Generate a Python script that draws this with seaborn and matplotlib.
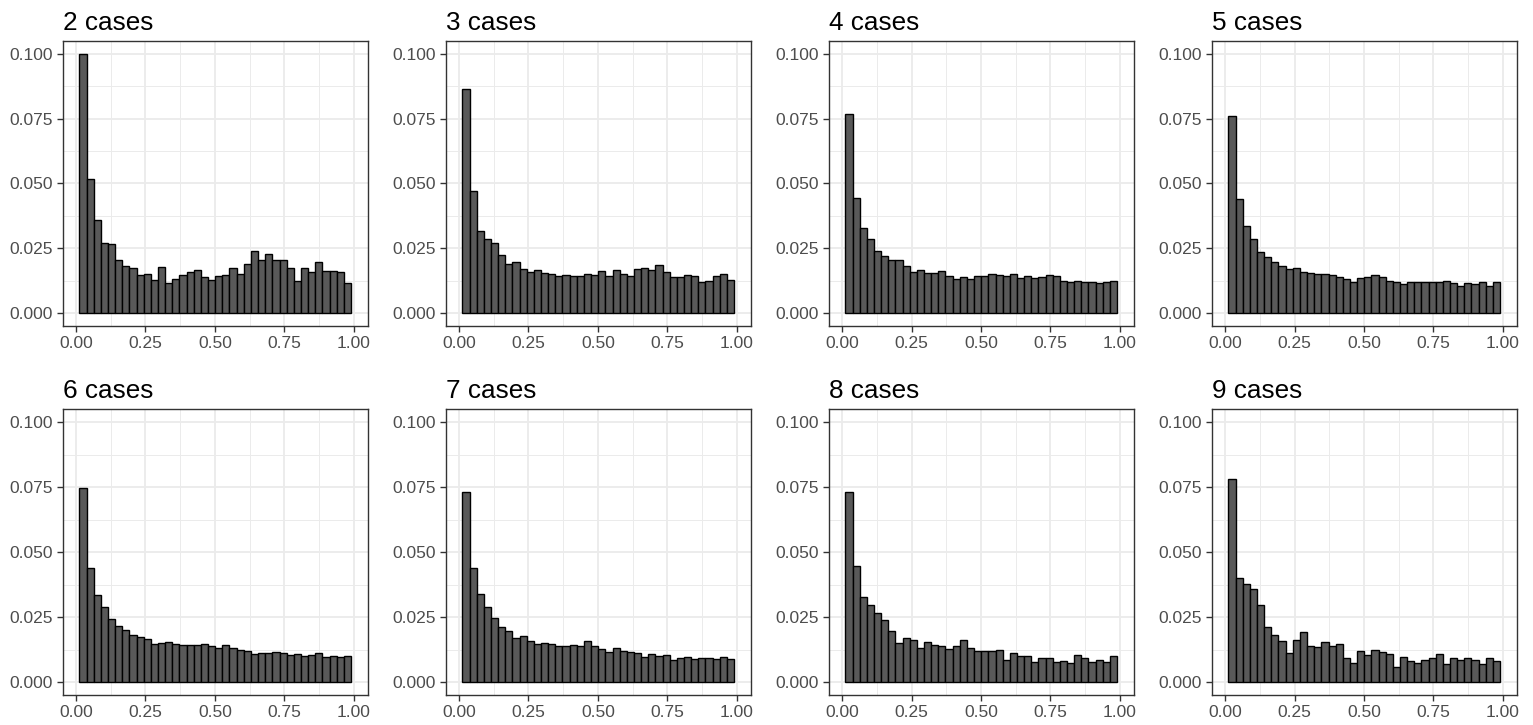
import numpy as np
import pandas as pd
import seaborn as sns
import matplotlib
matplotlib.use("Agg")
import matplotlib.pyplot as plt
from matplotlib.ticker import FixedLocator, FormatStrFormatter

# ---- data (bar heights, 38 bins each) ----
panel_titles = ["2 cases", "3 cases", "4 cases", "5 cases",
                "6 cases", "7 cases", "8 cases", "9 cases"]

cases_2 = [0.1000, 0.0518, 0.0361, 0.0272, 0.0267, 0.0204, 0.0183, 0.0174, 0.0146, 0.0152,
           0.0129, 0.0180, 0.0116, 0.0133, 0.0146, 0.0158, 0.0167, 0.0138, 0.0129, 0.0142,
           0.0148, 0.0176, 0.0151, 0.0189, 0.0241, 0.0206, 0.0230, 0.0206, 0.0206, 0.0176,
           0.0125, 0.0176, 0.0158, 0.0197, 0.0163, 0.0163, 0.0158, 0.0116]
cases_3 = [0.0864, 0.0471, 0.0318, 0.0287, 0.0270, 0.0223, 0.0191, 0.0199, 0.0172, 0.0158,
           0.0167, 0.0157, 0.0151, 0.0145, 0.0149, 0.0142, 0.0144, 0.0152, 0.0147, 0.0163,
           0.0143, 0.0166, 0.0151, 0.0143, 0.0170, 0.0176, 0.0168, 0.0185, 0.0159, 0.0139,
           0.0139, 0.0147, 0.0143, 0.0122, 0.0124, 0.0144, 0.0153, 0.0129]
cases_4 = [0.0769, 0.0445, 0.0329, 0.0287, 0.0241, 0.0221, 0.0207, 0.0204, 0.0184, 0.0159,
           0.0166, 0.0157, 0.0154, 0.0161, 0.0143, 0.0134, 0.0140, 0.0133, 0.0145, 0.0145,
           0.0151, 0.0148, 0.0145, 0.0151, 0.0136, 0.0143, 0.0135, 0.0139, 0.0147, 0.0145,
           0.0126, 0.0122, 0.0126, 0.0122, 0.0122, 0.0115, 0.0120, 0.0126]
cases_5 = [0.0761, 0.0441, 0.0337, 0.0287, 0.0237, 0.0216, 0.0199, 0.0184, 0.0171, 0.0176,
           0.0158, 0.0156, 0.0153, 0.0151, 0.0148, 0.0140, 0.0131, 0.0122, 0.0136, 0.0139,
           0.0148, 0.0138, 0.0125, 0.0121, 0.0112, 0.0119, 0.0119, 0.0121, 0.0121, 0.0121,
           0.0125, 0.0116, 0.0105, 0.0115, 0.0114, 0.0120, 0.0105, 0.0119]
cases_6 = [0.0749, 0.0438, 0.0337, 0.0290, 0.0242, 0.0214, 0.0200, 0.0180, 0.0172, 0.0165,
           0.0148, 0.0149, 0.0153, 0.0147, 0.0142, 0.0142, 0.0142, 0.0145, 0.0138, 0.0131,
           0.0142, 0.0130, 0.0122, 0.0120, 0.0106, 0.0111, 0.0112, 0.0117, 0.0111, 0.0105,
           0.0108, 0.0101, 0.0103, 0.0110, 0.0097, 0.0102, 0.0096, 0.0099]
cases_7 = [0.0730, 0.0438, 0.0339, 0.0290, 0.0246, 0.0210, 0.0195, 0.0170, 0.0179, 0.0159,
           0.0148, 0.0151, 0.0148, 0.0138, 0.0138, 0.0142, 0.0138, 0.0158, 0.0139, 0.0126,
           0.0116, 0.0130, 0.0119, 0.0117, 0.0110, 0.0097, 0.0107, 0.0101, 0.0103, 0.0084,
           0.0093, 0.0096, 0.0087, 0.0092, 0.0094, 0.0089, 0.0097, 0.0088]
cases_8 = [0.0730, 0.0448, 0.0329, 0.0295, 0.0264, 0.0240, 0.0195, 0.0151, 0.0170, 0.0162,
           0.0130, 0.0154, 0.0142, 0.0138, 0.0129, 0.0138, 0.0161, 0.0131, 0.0119, 0.0120,
           0.0120, 0.0125, 0.0083, 0.0110, 0.0101, 0.0099, 0.0078, 0.0093, 0.0091, 0.0077,
           0.0080, 0.0073, 0.0103, 0.0092, 0.0078, 0.0084, 0.0078, 0.0099]
cases_9 = [0.0783, 0.0402, 0.0378, 0.0357, 0.0295, 0.0212, 0.0182, 0.0157, 0.0111, 0.0161,
           0.0194, 0.0140, 0.0135, 0.0153, 0.0140, 0.0145, 0.0093, 0.0074, 0.0119, 0.0103,
           0.0124, 0.0114, 0.0108, 0.0059, 0.0096, 0.0080, 0.0075, 0.0084, 0.0093, 0.0106,
           0.0068, 0.0093, 0.0083, 0.0093, 0.0084, 0.0068, 0.0093, 0.0079]

x_ticks = [0.00, 0.25, 0.50, 0.75, 1.00]
y_ticks = [0.000, 0.025, 0.050, 0.075, 0.100]

series = [cases_2, cases_3, cases_4, cases_5, cases_6, cases_7, cases_8, cases_9]

# ---- bin layout ----
n_bins = len(cases_2)
bin_lo, bin_hi = 0.012, 0.990
edges = np.linspace(bin_lo, bin_hi, n_bins + 1)
centers = (edges[:-1] + edges[1:]) / 2

sns.set_theme(style="white")
plt.rcParams['font.family'] = ['Liberation Sans', 'DejaVu Sans']

fig, axes = plt.subplots(2, 4, figsize=(15.33, 7.25), dpi=100)
fig.subplots_adjust(left=0.0409, right=0.9894, top=0.9439, bottom=0.0414,
                    wspace=0.256, hspace=0.291)

for ax, title, vals in zip(axes.flat, panel_titles, series):
    df = pd.DataFrame({"p": centers, "w": vals})
    sns.histplot(data=df, x="p", weights="w", bins=n_bins, binrange=(bin_lo, bin_hi),
                 ax=ax, color="#595959", edgecolor="black", linewidth=1.0, alpha=1)
    ax.set_xlim(-0.048, 1.05)
    ax.set_ylim(-0.005, 0.105)
    ax.xaxis.set_major_locator(FixedLocator(x_ticks))
    ax.yaxis.set_major_locator(FixedLocator(y_ticks))
    ax.xaxis.set_minor_locator(FixedLocator([0.125, 0.375, 0.625, 0.875]))
    ax.yaxis.set_minor_locator(FixedLocator([0.0125, 0.0375, 0.0625, 0.0875]))
    ax.xaxis.set_major_formatter(FormatStrFormatter("%.2f"))
    ax.yaxis.set_major_formatter(FormatStrFormatter("%.3f"))
    ax.set_axisbelow(True)
    ax.grid(which="major", color="#EBEBEB", linewidth=1.3)
    ax.grid(which="minor", color="#EBEBEB", linewidth=0.7)
    for s in ax.spines.values():
        s.set_color("#333333")
        s.set_linewidth(1.0)
    ax.tick_params(which="major", length=4, width=1.0, color="#333333",
                   labelcolor="#4D4D4D", labelsize=12.5, pad=3,
                   bottom=True, left=True)
    ax.tick_params(which="minor", length=0)
    ax.set_xlabel("")
    ax.set_ylabel("")
    ax.set_title(title, loc="left", fontsize=18.8, color="black", pad=8)

fig.savefig("out.png", dpi=100, facecolor="white")
